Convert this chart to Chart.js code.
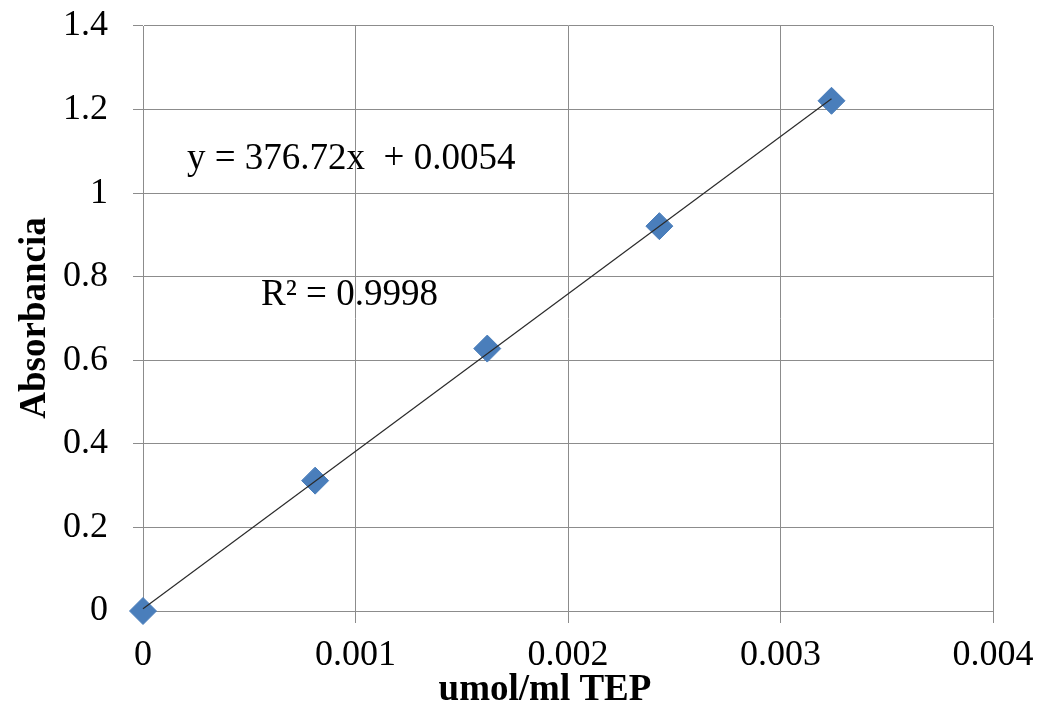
<!DOCTYPE html>
<html>
<head>
<meta charset="utf-8">
<script src="https://cdn.jsdelivr.net/npm/chart.js@4"></script>
<style>
html,body{margin:0;padding:0;background:#fff;}
#wrap{width:1046px;height:710px;}
</style>
</head>
<body>
<div id="wrap"><canvas id="c" width="1046" height="710"></canvas></div>
<script>
// Data
const concentration = [0, 0.00081, 0.00162, 0.00243, 0.00324];   // umol/ml TEP
const absorbance    = [0, 0.312, 0.628, 0.921, 1.221];
const trendX = [0, 0.00324];
const trendY = [0.0054, 1.226];
const xTickLabels = ['0', '0.001', '0.002', '0.003', '0.004'];
const yTickLabels = ['0', '0.2', '0.4', '0.6', '0.8', '1', '1.2', '1.4'];
const equationText = 'y = 376.72x  + 0.0054';
const r2Text = 'R\u00B2 = 0.9998';
const xTitle = 'umol/ml TEP';
const yTitle = 'Absorbancia';

const FONT = '"Liberation Serif", "Times New Roman", serif';
const GRID = '#8c8c8c';

const annotationPlugin = {
  id: 'annot',
  afterDatasetsDraw(chart) {
    const ctx = chart.ctx;
    ctx.save();
    ctx.fillStyle = '#000';
    ctx.font = '37px ' + FONT;
    ctx.textAlign = 'left';
    ctx.textBaseline = 'middle';
    ctx.fillText(equationText, 187, 159);
    ctx.fillText(r2Text, 261, 295);
    // axis titles
    ctx.font = 'bold 37px ' + FONT;
    ctx.textAlign = 'center';
    ctx.fillText(xTitle, 545, 690);
    ctx.translate(35, 318);
    ctx.rotate(-Math.PI / 2);
    ctx.fillText(yTitle, 0, 0);
    ctx.restore();
  }
};

const pts = concentration.map((x, i) => ({x: x, y: absorbance[i]}));
const trend = trendX.map((x, i) => ({x: x, y: trendY[i]}));

new Chart(document.getElementById('c'), {
  type: 'scatter',
  data: {
    datasets: [
      {
        label: 'trend',
        data: trend,
        showLine: true,
        borderColor: '#2b2b2b',
        borderWidth: 1.2,
        pointRadius: 0,
        clip: false,
        order: 0
      },
      {
        label: 'Absorbancia',
        data: pts,
        pointStyle: 'rectRot',
        pointRadius: 13.5,
        pointBackgroundColor: '#4a7ebb',
        pointBorderColor: '#4a7ebb',
        pointBorderWidth: 1,
        showLine: false,
        clip: false,
        order: 1
      }
    ]
  },
  options: {
    responsive: false,
    animation: false,
    events: [],
    layout: {padding: {left: 0, right: 53, top: 26, bottom: 0}},
    plugins: {legend: {display: false}, tooltip: {enabled: false}},
    scales: {
      x: {
        type: 'linear',
        min: 0, max: 0.004,
        afterFit(s) { s.height = 99; s.paddingLeft = 0; s.paddingRight = 0; },
        afterBuildTicks(s) { s.ticks = xTickLabels.map((t, i) => ({value: i * 0.001})); },
        ticks: {
          callback: (v, i) => xTickLabels[i],
          font: {family: FONT, size: 36},
          color: '#000',
          padding: 11,
          maxRotation: 0,
          autoSkip: false
        },
        grid: {color: GRID, lineWidth: 1, tickLength: 12, tickColor: GRID},
        border: {color: GRID, width: 1},
        title: {display: false}
      },
      y: {
        type: 'linear',
        min: 0, max: 1.4,
        afterFit(s) { s.width = 143; s.paddingTop = 0; s.paddingBottom = 0; },
        afterBuildTicks(s) { s.ticks = yTickLabels.map((t, i) => ({value: i * 0.2})); },
        ticks: {
          callback: (v, i) => yTickLabels[i],
          font: {family: FONT, size: 36},
          color: '#000',
          padding: 25,
          autoSkip: false
        },
        grid: {color: GRID, lineWidth: 1, tickLength: 10, tickColor: GRID},
        border: {color: GRID, width: 1},
        title: {display: false}
      }
    }
  },
  plugins: [annotationPlugin]
});
</script>
</body>
</html>
